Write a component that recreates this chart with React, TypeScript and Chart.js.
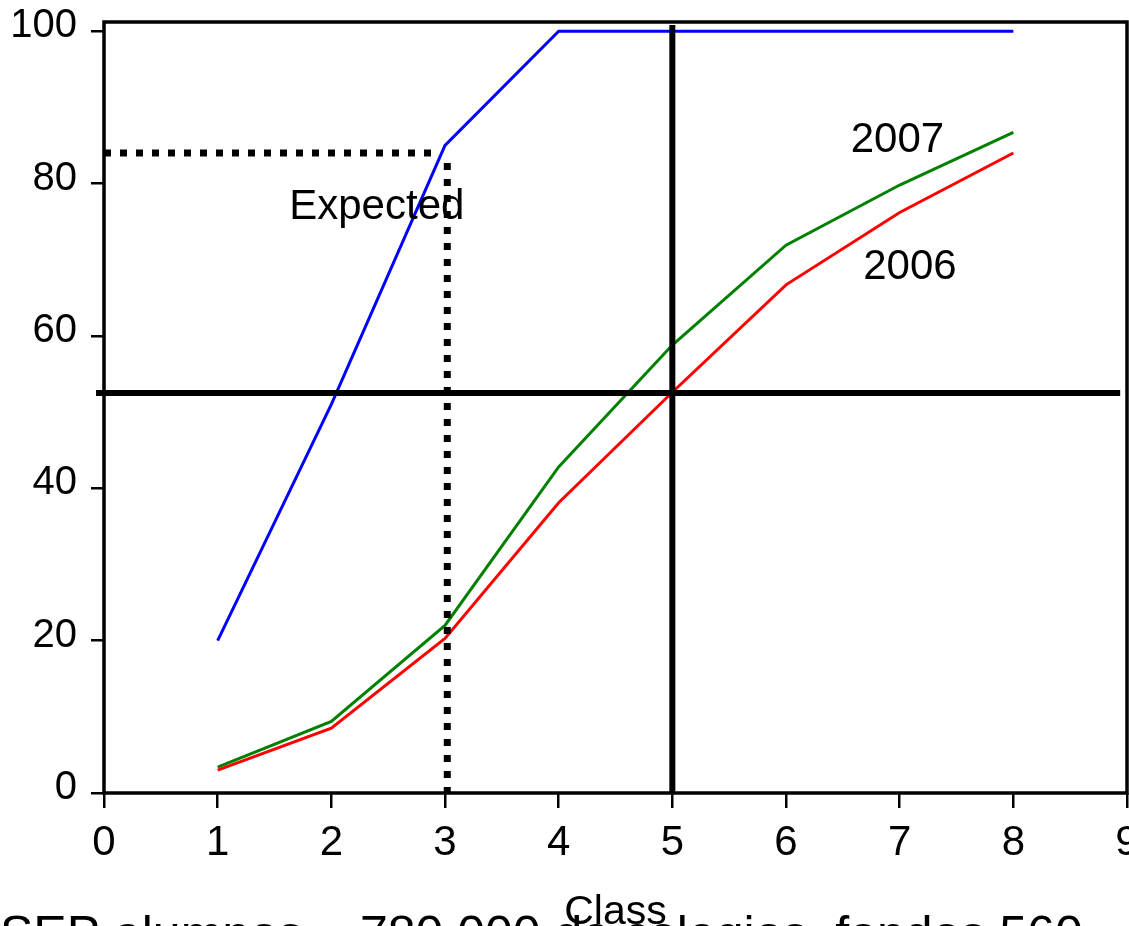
import React, { useEffect, useRef } from "react";
import { Chart, registerables } from "chart.js";

Chart.register(...registerables);

// ---- data ----
const classes = [1, 2, 3, 4, 5, 6, 7, 8];
const expected = [20, 51, 85, 100, 100, 100, 100, 100];
const share2007 = [3.4, 9.4, 22.0, 42.8, 58.8, 71.9, 79.8, 86.7];
const share2006 = [3.0, 8.5, 20.3, 38.1, 52.6, 66.7, 76.2, 84.0];

const xTickValues = [0, 1, 2, 3, 4, 5, 6, 7, 8, 9];
const yTickValues = [0, 20, 40, 60, 80, 100];

// reference lines (data units)
const hLineX = [-0.07, 8.94];
const hLineY = 52.5;
const vLineX = 5;
const vLineY = [0, 100.8];
const dotHX = [0, 2.88];
const dotHY = 84;
const dotVX = 3.02;
const dotVY = [82.7, 0];

// text annotations (data units)
const annText = ["2007", "2006", "Expected"];
const annX = [6.98, 7.09, 2.4];
const annY = [85.7, 69.0, 76.9];

const xTitle = "Class";
const caption = "SEP alumnos = 780,000 de colegios, fondos 560";

const FONT = '"Liberation Sans", Arial, sans-serif';

export default function App() {
  const ref = useRef<HTMLCanvasElement | null>(null);

  useEffect(() => {
    if (!ref.current) return;
    Chart.defaults.font.family = FONT;

    const overlay = {
      id: "overlay",
      afterDraw(chart: any) {
        const { ctx, chartArea, scales } = chart;
        const x = scales.x;
        const y = scales.y;
        ctx.save();
        ctx.strokeStyle = "#000";
        ctx.lineWidth = 3.5;
        ctx.strokeRect(
          chartArea.left,
          chartArea.top,
          chartArea.right - chartArea.left,
          chartArea.bottom - chartArea.top
        );
        ctx.fillStyle = "#000";
        ctx.font = `42px ${FONT}`;
        ctx.textAlign = "center";
        ctx.textBaseline = "middle";
        annText.forEach((t, i) => {
          ctx.fillText(t, x.getPixelForValue(annX[i]), y.getPixelForValue(annY[i]));
        });
        ctx.font = `50px ${FONT}`;
        ctx.textAlign = "left";
        ctx.textBaseline = "alphabetic";
        ctx.fillText(caption, 0, 951);
        ctx.restore();
      },
    };

    const pts = (xs: number[], ys: number[]) => xs.map((v, i) => ({ x: v, y: ys[i] }));

    const chart = new Chart(ref.current, {
      type: "line",
      data: {
        datasets: [
          {
            label: "hline",
            data: pts(hLineX, [hLineY, hLineY]),
            borderColor: "#000",
            borderWidth: 6,
            pointRadius: 0,
            clip: false as any,
            order: 0,
          },
          {
            label: "vline",
            data: pts([vLineX, vLineX], vLineY),
            borderColor: "#000",
            borderWidth: 6,
            pointRadius: 0,
            clip: false as any,
            order: 0,
          },
          {
            label: "dotH",
            data: pts(dotHX, [dotHY, dotHY]),
            borderColor: "#000",
            borderWidth: 7,
            borderDash: [7, 9],
            borderCapStyle: "butt",
            pointRadius: 0,
            clip: false as any,
            order: 0,
          },
          {
            label: "dotV",
            data: pts([dotVX, dotVX], dotVY),
            borderColor: "#000",
            borderWidth: 7,
            borderDash: [7, 9],
            borderCapStyle: "butt",
            pointRadius: 0,
            clip: false as any,
            order: 0,
          },
          {
            label: "Expected",
            data: pts(classes, expected),
            borderColor: "#0000FF",
            borderWidth: 3,
            pointRadius: 0,
            tension: 0,
            order: 3,
          },
          {
            label: "2007",
            data: pts(classes, share2007),
            borderColor: "#008000",
            borderWidth: 3,
            pointRadius: 0,
            tension: 0,
            order: 2,
          },
          {
            label: "2006",
            data: pts(classes, share2006),
            borderColor: "#FF0000",
            borderWidth: 3,
            pointRadius: 0,
            tension: 0,
            order: 1,
          },
        ],
      },
      options: {
        responsive: false,
        animation: false,
        events: [],
        layout: { padding: { top: 22, right: 2, left: 0, bottom: 0 } },
        plugins: {
          legend: { display: false },
          tooltip: { enabled: false },
          title: { display: false },
        },
        scales: {
          x: {
            type: "linear",
            min: 0,
            max: 9,
            border: { display: false },
            grid: {
              drawOnChartArea: false,
              drawTicks: true,
              tickLength: 15,
              color: "#000",
              lineWidth: 2.5,
            },
            afterBuildTicks: (scale: any) => {
              scale.ticks = xTickValues.map((v) => ({ value: v }));
            },
            ticks: {
              autoSkip: false,
              maxRotation: 0,
              color: "#000",
              padding: 10,
              font: { size: 42, family: FONT },
            },
            title: {
              display: true,
              text: xTitle,
              color: "#000",
              font: { size: 41, family: FONT, lineHeight: 0.5 },
              padding: { top: 0, bottom: 3 },
            },
            afterFit: (scale: any) => {
              scale.height = 133;
              scale.paddingLeft = 0;
              scale.paddingRight = 0;
            },
          },
          y: {
            type: "linear",
            min: 0,
            max: 101.2,
            border: { display: false },
            grid: {
              drawOnChartArea: false,
              drawTicks: true,
              tickLength: 13,
              color: "#000",
              lineWidth: 2.5,
            },
            afterBuildTicks: (scale: any) => {
              scale.ticks = yTickValues.map((v) => ({ value: v }));
            },
            ticks: {
              autoSkip: false,
              color: "#000",
              padding: 14,
              labelOffset: -5,
              font: { size: 40, family: FONT },
            },
            afterFit: (scale: any) => {
              scale.width = 104;
              scale.paddingTop = 0;
              scale.paddingBottom = 0;
            },
          },
        },
      },
      plugins: [overlay],
    } as any);

    return () => chart.destroy();
  }, []);

  return (
    <div style={{ position: "absolute", left: 0, top: 0, width: 1129, height: 926, overflow: "hidden", background: "#fff" }}>
      <canvas ref={ref} width={1129} height={926} />
    </div>
  );
}
